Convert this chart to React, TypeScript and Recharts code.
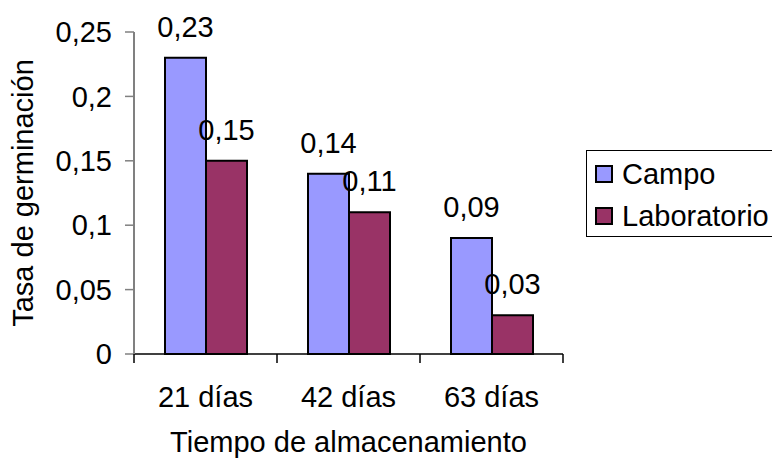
import { BarChart, Bar, XAxis, YAxis, Legend, LabelList, Label } from "recharts";

// germination rate per storage time, field vs lab
const categories = ["21 días", "42 días", "63 días"];
const campo = [0.23, 0.14, 0.09];
const laboratorio = [0.15, 0.11, 0.03];
const yTicks = [0, 0.05, 0.1, 0.15, 0.2, 0.25];

const data = categories.map((label, i) => ({
  label,
  campo: campo[i],
  laboratorio: laboratorio[i],
}));

const FONT = '"Liberation Sans", Arial, Helvetica, sans-serif';
const FS = 29;

const comma = (v: number | string) => String(v).replace(".", ",");

// category label plus tick marks on the category boundaries
function CategoryTick(props: any) {
  const { x, y, payload, index, visibleTicksCount } = props;
  const half = payload?.offset ?? 0;
  const isLast = index === visibleTicksCount - 1;
  return (
    <g>
      <line x1={x - half} x2={x - half} y1={y} y2={y + 9} stroke="#000" strokeWidth={1.5} />
      {isLast && (
        <line x1={x + half} x2={x + half} y1={y} y2={y + 9} stroke="#000" strokeWidth={1.5} />
      )}
      <text x={x} y={y + 53} textAnchor="middle" fontSize={FS} fontFamily={FONT} fill="#000">
        {payload.value}
      </text>
    </g>
  );
}

function LegendBox({ payload }: any) {
  return (
    <div
      style={{
        border: "1px solid #000",
        background: "#fff",
        width: 200,
        height: 87,
        boxSizing: "border-box",
        padding: "2px 0 0 8px",
        fontFamily: FONT,
        fontSize: FS,
        color: "#000",
        lineHeight: 1,
      }}
    >
      {(payload || []).map((entry: any) => (
        <div key={entry.value} style={{ display: "flex", alignItems: "center", height: 42 }}>
          <span
            style={{
              display: "inline-block",
              width: 14,
              height: 14,
              border: "2px solid #000",
              background: entry.color,
              marginRight: 9,
            }}
          />
          <span>{entry.value}</span>
        </div>
      ))}
    </div>
  );
}

export default function App() {
  return (
    <div
      style={{
        position: "absolute",
        left: 0,
        top: 0,
        width: 772,
        height: 460,
        overflow: "hidden",
        background: "#fff",
      }}
    >
      <BarChart
        width={772}
        height={460}
        data={data}
        margin={{ top: 32, right: 209, bottom: 0, left: 0 }}
        barGap={0}
        barSize={41}
      >
        <XAxis
          dataKey="label"
          height={106}
          axisLine={{ stroke: "#000", strokeWidth: 1.5 }}
          tickLine={false}
          tickSize={0}
          tickMargin={0}
          tick={<CategoryTick />}
          interval={0}
        >
          <Label
            value="Tiempo de almacenamiento"
            position="insideBottom"
            offset={8}
            fontSize={FS}
            fontFamily={FONT}
            fill="#000"
          />
        </XAxis>
        <YAxis
          width={134}
          domain={[0, 0.25]}
          ticks={yTicks}
          tickFormatter={comma}
          axisLine={{ stroke: "#808080", strokeWidth: 2 }}
          tickLine={{ stroke: "#808080", strokeWidth: 1.5 }}
          tickSize={9}
          tickMargin={13}
          tick={{ fontSize: FS, fontFamily: FONT, fill: "#000" }}
        >
          <Label
            value="Tasa de germinación"
            angle={-90}
            position="insideLeft"
            offset={23}
            fontSize={FS}
            fontFamily={FONT}
            fill="#000"
            style={{ textAnchor: "middle" }}
          />
        </YAxis>
        <Legend
          layout="vertical"
          align="center"
          verticalAlign="middle"
          content={<LegendBox />}
          wrapperStyle={{ left: 586, top: 150, width: 200, height: 87 }}
        />
        <Bar
          dataKey="campo"
          name="Campo"
          fill="#9999FF"
          stroke="#000"
          strokeWidth={2}
          isAnimationActive={false}
        >
          <LabelList
            dataKey="campo"
            position="top"
            offset={21}
            formatter={comma}
            fontSize={FS}
            fontFamily={FONT}
            fill="#000"
          />
        </Bar>
        <Bar
          dataKey="laboratorio"
          name="Laboratorio"
          fill="#993366"
          stroke="#000"
          strokeWidth={2}
          isAnimationActive={false}
        >
          <LabelList
            dataKey="laboratorio"
            position="top"
            offset={21}
            formatter={comma}
            fontSize={FS}
            fontFamily={FONT}
            fill="#000"
          />
        </Bar>
      </BarChart>
    </div>
  );
}
